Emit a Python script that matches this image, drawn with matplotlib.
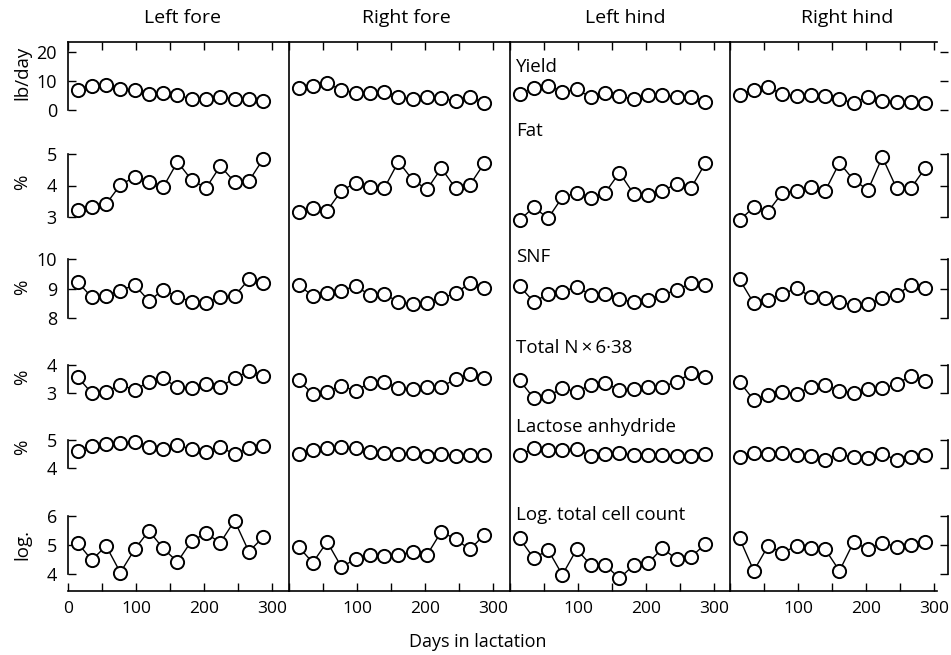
import numpy as np
import matplotlib
matplotlib.use('Agg')
import matplotlib.pyplot as plt

plt.rcParams['font.family'] = ['Open Sans', 'DejaVu Sans']

# sampling days (every 3 weeks)
days = [14, 35, 56, 77, 98, 119, 140, 161, 182, 203, 224, 245, 266, 287]

quarters = ['Left fore', 'Right fore', 'Left hind', 'Right hind']
row_names = ['Yield', 'Fat', 'SNF', 'Total N\u2009\u00d7\u20096\u00b738',
             'Lactose anhydride', 'Log. total cell count']
row_units = ['lb/day', '%', '%', '%', '%', 'log.']

# Left fore
lf_yield = [6.9, 8.3, 8.6, 7.2, 6.9, 5.5, 5.9, 5.2, 3.8, 3.8, 4.5, 3.8, 3.8, 3.1]
lf_fat = [3.22, 3.32, 3.41, 4.02, 4.27, 4.11, 3.95, 4.75, 4.17, 3.92, 4.62, 4.11, 4.14, 4.84]
lf_snf = [9.23, 8.70, 8.75, 8.93, 9.12, 8.58, 8.95, 8.72, 8.55, 8.52, 8.70, 8.75, 9.31, 9.17]
lf_protein = [3.58, 2.99, 3.05, 3.29, 3.11, 3.40, 3.52, 3.20, 3.17, 3.32, 3.23, 3.52, 3.79, 3.62]
lf_lactose = [4.62, 4.79, 4.86, 4.88, 4.94, 4.74, 4.67, 4.82, 4.67, 4.58, 4.74, 4.50, 4.70, 4.79]
lf_cells = [5.08, 4.48, 4.97, 4.05, 4.85, 5.49, 4.88, 4.42, 5.15, 5.40, 5.08, 5.84, 4.77, 5.27]

# Right fore
rf_yield = [7.5, 8.3, 9.2, 6.9, 6.0, 6.0, 6.3, 4.6, 3.7, 4.6, 4.0, 3.2, 4.4, 2.5]
rf_fat = [3.17, 3.28, 3.20, 3.83, 4.09, 3.96, 3.91, 4.76, 4.17, 3.88, 4.55, 3.91, 4.02, 4.70]
rf_snf = [9.12, 8.75, 8.84, 8.93, 9.08, 8.78, 8.81, 8.55, 8.47, 8.50, 8.67, 8.84, 9.18, 9.01]
rf_protein = [3.46, 2.96, 3.05, 3.25, 3.08, 3.37, 3.40, 3.17, 3.13, 3.23, 3.23, 3.49, 3.68, 3.52]
rf_lactose = [4.50, 4.64, 4.73, 4.74, 4.73, 4.58, 4.55, 4.50, 4.52, 4.44, 4.50, 4.43, 4.46, 4.46]
rf_cells = [4.94, 4.39, 5.11, 4.25, 4.51, 4.66, 4.62, 4.66, 4.77, 4.66, 5.46, 5.20, 4.85, 5.34]

# Left hind
lh_yield = [5.5, 7.5, 8.3, 6.3, 7.1, 4.4, 6.0, 4.8, 3.7, 5.2, 5.2, 4.6, 4.4, 2.9]
lh_fat = [2.90, 3.31, 2.96, 3.63, 3.77, 3.59, 3.77, 4.41, 3.73, 3.70, 3.83, 4.05, 3.91, 4.70]
lh_snf = [9.08, 8.55, 8.81, 8.89, 9.06, 8.78, 8.81, 8.63, 8.55, 8.61, 8.78, 8.95, 9.18, 9.12]
lh_protein = [3.46, 2.81, 2.89, 3.17, 3.05, 3.29, 3.35, 3.11, 3.13, 3.23, 3.23, 3.40, 3.70, 3.56]
lh_lactose = [4.46, 4.70, 4.64, 4.64, 4.67, 4.43, 4.50, 4.52, 4.46, 4.46, 4.46, 4.43, 4.43, 4.50]
lh_cells = [5.23, 4.54, 4.83, 3.97, 4.85, 4.31, 4.31, 3.85, 4.31, 4.37, 4.89, 4.51, 4.58, 5.03]

# Right hind
rh_yield = [5.2, 6.9, 7.8, 5.5, 4.8, 5.2, 4.8, 3.7, 2.5, 4.6, 3.2, 2.9, 2.9, 2.5]
rh_fat = [2.90, 3.31, 3.17, 3.77, 3.83, 3.94, 3.83, 4.72, 4.17, 3.86, 4.90, 3.91, 3.91, 4.55]
rh_snf = [9.31, 8.50, 8.61, 8.81, 9.01, 8.72, 8.67, 8.55, 8.44, 8.47, 8.67, 8.78, 9.12, 9.01]
rh_protein = [3.40, 2.75, 2.93, 3.05, 2.96, 3.23, 3.29, 3.08, 2.99, 3.13, 3.17, 3.32, 3.61, 3.44]
rh_lactose = [4.38, 4.52, 4.50, 4.52, 4.46, 4.43, 4.29, 4.50, 4.38, 4.35, 4.50, 4.29, 4.38, 4.46]
rh_cells = [5.23, 4.11, 4.97, 4.73, 4.97, 4.89, 4.85, 4.11, 5.11, 4.85, 5.08, 4.94, 5.00, 5.11]

data = [
    [lf_yield, lf_fat, lf_snf, lf_protein, lf_lactose, lf_cells],
    [rf_yield, rf_fat, rf_snf, rf_protein, rf_lactose, rf_cells],
    [lh_yield, lh_fat, lh_snf, lh_protein, lh_lactose, lh_cells],
    [rh_yield, rh_fat, rh_snf, rh_protein, rh_lactose, rh_cells],
]

# layout in pixels
W, H = 951, 655
fig = plt.figure(figsize=(W / 100, H / 100), dpi=100)

def px_axes(x0, y_top, x1, y_bot):
    return fig.add_axes([x0 / W, 1 - y_bot / H, (x1 - x0) / W, (y_bot - y_top) / H])

px_per_day = 0.68
col_edges = [(68, 289), (289, 510), (510, 730), (730, 937)]
title_x = [182, 406, 625, 847]
frame_top, frame_bot = 42, 591
# (value at bottom, px at bottom, value at top, px at top, ticks)
row_scales = [
    (0, 110, 20, 52, [0, 10, 20]),
    (3, 217, 5, 154, [3, 4, 5]),
    (8, 318, 10, 259, [8, 9, 10]),
    (3, 393, 4, 365, [3, 4]),
    (4, 468, 5, 440, [4, 5]),
    (4, 574, 6, 516, [4, 5, 6]),
]
unit_y = [73, 182, 287, 377, 447, 545]

lw_axis = 1.2

for c, (x0, x1) in enumerate(col_edges):
    xmax = (x1 - x0) / px_per_day
    # frame with top / bottom ticks and panel divider
    fr = px_axes(x0, frame_top, x1, frame_bot)
    fr.set_xlim(0, xmax)
    fr.set_ylim(0, 1)
    fr.set_yticks([])
    fr.patch.set_alpha(0)
    for s in ['top', 'bottom', 'left']:
        fr.spines[s].set_linewidth(lw_axis)
    fr.spines['right'].set_visible(False)
    fr.spines['left'].set_visible(c > 0)
    fr.set_xticks(np.arange(0, 301, 50))
    fr.set_xticklabels(['0' if c == 0 else '', '', '100', '', '200', '', '300'],
                       fontsize=12.5)
    fr.tick_params(axis='x', direction='in', top=True, bottom=True,
                   length=6, width=1.0, pad=7)

    for r, (v0, p0, v1, p1, ticks) in enumerate(row_scales):
        top_px = frame_top if r == 0 else p1
        scale = (p0 - p1) / (v1 - v0)
        vtop = v0 + (p0 - top_px) / scale
        ax = px_axes(x0, top_px, x1, p0)
        ax.patch.set_alpha(0)
        ax.set_xlim(0, xmax)
        ax.set_ylim(v0, vtop)
        ax.set_xticks([])
        for s in ax.spines.values():
            s.set_visible(False)
        ax.plot(days, data[c][r], '-o', color='black', lw=1.0, ms=9.5,
                mfc='white', mec='black', mew=1.4, clip_on=False, zorder=3)
        ax.set_yticks(ticks)
        if c == 0:
            ax.spines['left'].set_visible(True)
            ax.spines['left'].set_linewidth(lw_axis)
            ax.spines['left'].set_bounds(v0, vtop if r == 0 else v1)
            ax.tick_params(axis='y', direction='in', left=True, right=False,
                           length=6, width=1.0, pad=8, labelsize=13)
            fig.text(22 / W, 1 - unit_y[r] / H, row_units[r], rotation=90,
                     ha='center', va='center', fontsize=13.5)
        elif c == 3:
            ax.spines['right'].set_visible(r > 0)
            ax.spines['right'].set_linewidth(lw_axis)
            ax.spines['right'].set_position(('outward', 8))
            ax.spines['right'].set_bounds(v0, v1)
            ax.yaxis.set_ticks_position('right')
            ax.tick_params(axis='y', direction='in', length=6, width=1.0,
                           labelright=False, labelleft=False)
        else:
            ax.set_yticks([])

    fig.text(title_x[c] / W, 1 - 18 / H, quarters[c],
             ha='center', va='center', fontsize=14)

# series names inside the left hind panel
name_y = [67, 131, 257, 348, 427, 515]
for name, y in zip(row_names, name_y):
    fig.text(516 / W, 1 - y / H, name, ha='left', va='center', fontsize=13.5)

fig.text(478 / W, 1 - 642 / H, 'Days in lactation', ha='center', va='center',
         fontsize=13)

fig.savefig('out.png', dpi=100)
